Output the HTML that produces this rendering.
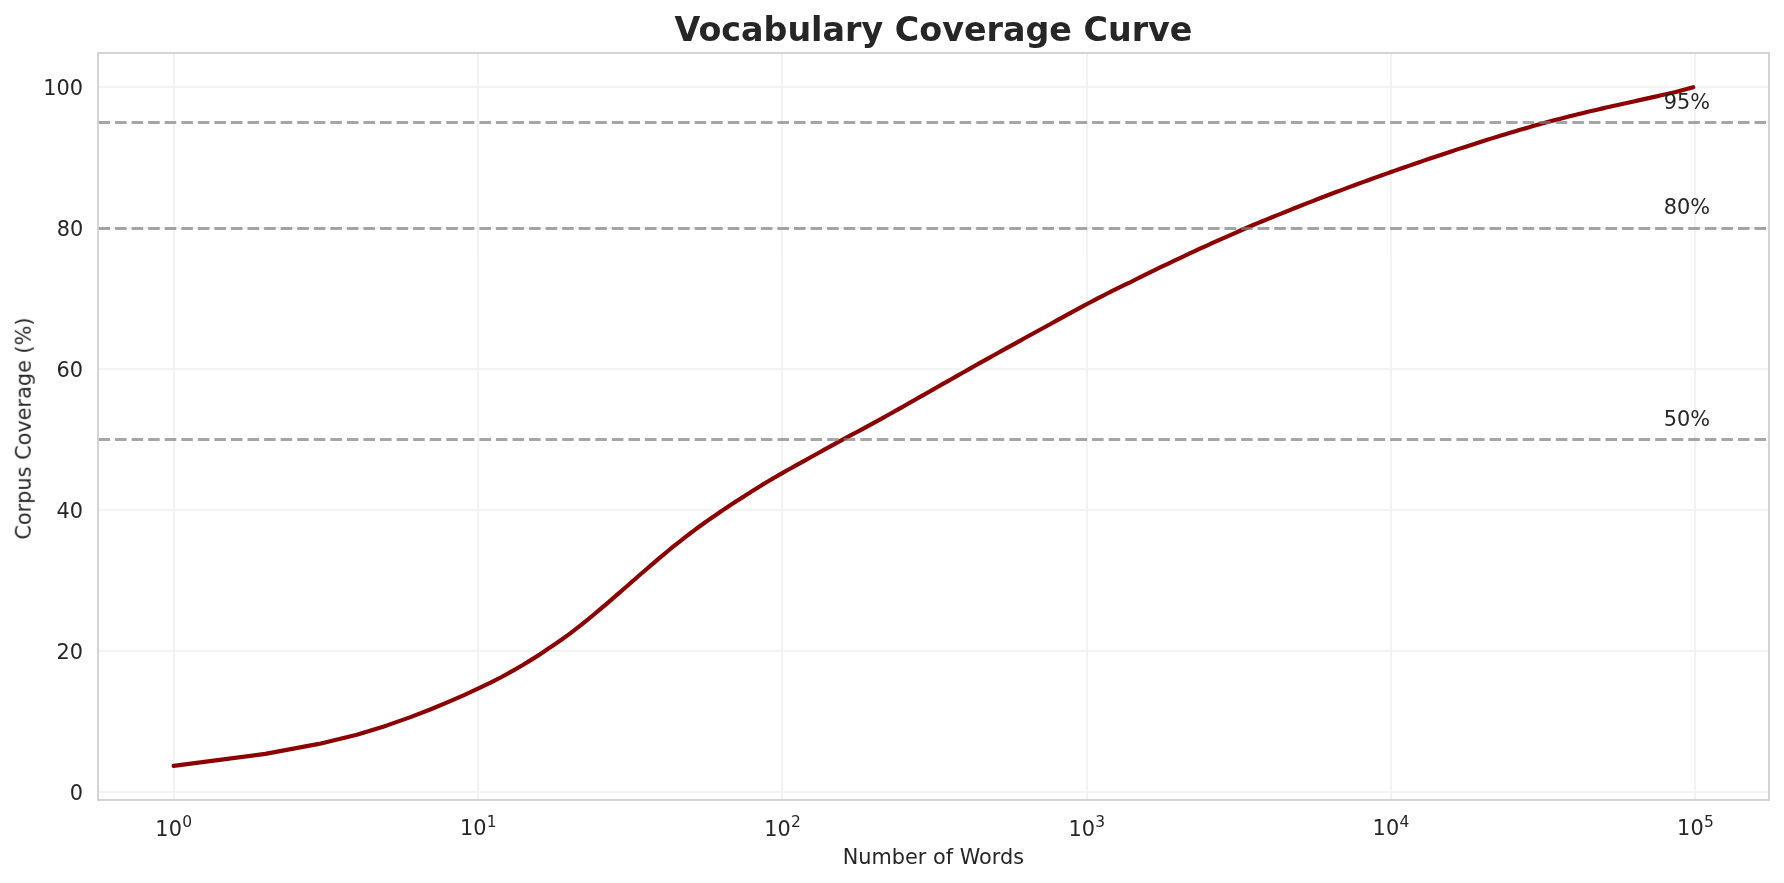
<!DOCTYPE html>
<html><head><meta charset="utf-8"><title>Vocabulary Coverage Curve</title>
<style>html,body{margin:0;padding:0;background:#fff;overflow:hidden}svg{display:block}</style>
</head><body>
<svg width="1784" height="883" viewBox="0 0 1784 883" font-family="'DejaVu Sans', sans-serif">
<defs><clipPath id="c"><rect x="97.67" y="53.2" width="1671.52" height="746.68"/></clipPath></defs>
<rect width="1784" height="883" fill="#fff"/>
<path d="M174 53V800M478 53V800M782 53V800M1087 53V800M1391 53V800M1695 53V800M98 792H1769M98 651H1769M98 510H1769M98 369H1769M98 228H1769M98 87H1769" clip-path="url(#c)" fill="none" stroke="#ccc" stroke-opacity="0.3" stroke-width="1.67" stroke-linecap="round"/>
<path d="M173.64 765.94 265.25 753.9 318.84 743.92 356.86 734.69 386.35 725.65 410.45 717.13 430.82 709.24 448.47 701.93 464.03 695.11 477.96 688.67 490.56 682.62 502.06 676.74 512.63 670.92 522.43 665.22 531.55 659.62 540.08 654.15 548.09 648.84 555.64 643.69 562.79 638.71 569.57 633.82 576.02 628.95 582.16 624.12 588.04 619.38 593.66 614.74 599.06 610.22 604.24 605.82 609.23 601.55 614.04 597.41 618.67 593.39 623.15 589.49 627.49 585.7 631.68 582.04 635.75 578.49 639.7 575.05 643.53 571.73 647.25 568.51 650.87 565.39 654.4 562.37 657.83 559.45 661.18 556.62 664.44 553.9 667.62 551.26 670.73 548.71 673.77 546.24 676.74 543.85 679.65 541.54 682.49 539.3 685.27 537.14 688 535.04 690.67 533.01 693.28 531.05 695.85 529.14 698.37 527.29 700.84 525.49 703.26 523.74 705.64 522.04 707.98 520.39 710.28 518.78 712.54 517.21 714.76 515.68 716.95 514.18 719.1 512.71 721.21 511.27 723.29 509.87 725.34 508.5 727.36 507.16 729.35 505.84 731.3 504.56 733.23 503.3 735.14 502.07 737.01 500.86 738.86 499.68 740.68 498.52 742.48 497.38 744.25 496.26 746 495.12 747.73 494.01 749.44 492.91 751.12 491.84 752.78 490.78 754.42 489.74 756.05 488.71 757.65 487.7 759.23 486.71 760.8 485.73 762.34 484.78 763.87 483.86 765.38 482.96 766.87 482.07 768.35 481.2 769.81 480.33 771.25 479.48 772.68 478.64 774.1 477.81 775.5 476.99 776.88 476.19 778.25 475.39 779.6 474.6 780.95 473.83 782.27 473.08 786.85 470.51 791.43 467.95 796.01 465.39 800.58 462.85 805.16 460.32 809.74 457.78 814.32 455.25 818.89 452.71 823.47 450.18 828.05 447.64 832.63 445.11 837.2 442.57 841.78 440.08 846.36 437.64 850.94 435.2 855.52 432.77 860.09 430.33 864.67 427.84 869.25 425.34 873.83 422.85 878.4 420.36 882.98 417.83 887.56 415.27 892.14 412.72 896.71 410.17 901.29 407.6 905.87 404.99 910.45 402.38 915.02 399.78 919.6 397.17 924.18 394.57 928.76 391.97 933.33 389.37 937.91 386.77 942.49 384.18 947.07 381.58 951.64 378.99 956.22 376.4 960.8 373.81 965.38 371.21 969.95 368.61 974.53 366.01 979.11 363.42 983.69 360.86 988.26 358.31 992.84 355.76 997.42 353.22 1002 350.68 1006.57 348.14 1011.15 345.61 1015.73 343.08 1020.31 340.56 1024.88 338.04 1029.46 335.52 1034.04 333.01 1038.62 330.49 1043.2 327.99 1047.77 325.48 1052.35 322.96 1056.93 320.44 1061.51 317.92 1066.08 315.4 1070.66 312.89 1075.24 310.38 1079.82 307.89 1084.39 305.44 1088.97 303.01 1093.55 300.58 1098.13 298.16 1102.7 295.81 1107.28 293.49 1111.86 291.19 1116.44 288.9 1121.01 286.64 1125.59 284.46 1130.17 282.29 1134.75 279.99 1139.32 277.71 1143.9 275.44 1148.48 273.18 1153.06 270.93 1157.63 268.71 1162.21 266.49 1166.79 264.3 1171.37 262.11 1175.94 259.95 1180.52 257.8 1185.1 255.63 1189.68 253.48 1194.25 251.34 1198.83 249.22 1203.41 247.12 1207.99 245.03 1212.57 242.97 1217.14 240.92 1221.72 238.88 1226.3 236.86 1230.88 234.85 1235.45 232.79 1240.03 230.75 1244.61 228.73 1249.19 226.72 1253.76 224.79 1258.34 222.9 1262.92 221.01 1267.5 219.15 1272.07 217.29 1276.65 215.43 1281.23 213.59 1285.81 211.73 1290.38 209.88 1294.96 208.05 1299.54 206.23 1304.12 204.42 1308.69 202.62 1313.27 200.84 1317.85 199.06 1322.43 197.3 1327 195.55 1331.58 193.8 1336.16 192.07 1340.74 190.34 1345.31 188.63 1349.89 186.92 1354.47 185.23 1359.05 183.54 1363.62 181.87 1368.2 180.2 1372.78 178.54 1377.36 176.89 1381.93 175.25 1386.51 173.62 1391.09 172 1395.67 170.39 1400.25 168.79 1404.82 167.19 1409.4 165.6 1413.98 164.02 1418.56 162.44 1423.13 160.87 1427.71 159.31 1432.29 157.76 1436.87 156.23 1441.44 154.7 1446.02 153.17 1450.6 151.65 1455.18 150.14 1459.75 148.64 1464.33 147.15 1468.91 145.66 1473.49 144.19 1478.06 142.72 1482.64 141.26 1487.22 139.81 1491.8 138.38 1496.37 136.95 1500.95 135.54 1505.53 134.15 1510.11 132.77 1514.68 131.4 1519.26 130.05 1523.84 128.72 1528.42 127.41 1532.99 126.1 1537.57 124.82 1542.15 123.55 1546.73 122.31 1551.3 121.08 1555.88 119.87 1560.46 118.67 1565.04 117.5 1569.62 116.34 1574.19 115.19 1578.77 114.06 1583.35 112.93 1587.93 111.83 1592.5 110.74 1597.08 109.68 1601.66 108.62 1606.24 107.58 1610.81 106.54 1615.39 105.51 1619.97 104.48 1624.55 103.46 1629.12 102.44 1633.7 101.42 1638.28 100.4 1642.86 99.39 1647.43 98.37 1652.01 97.36 1656.59 96.34 1661.17 95.32 1665.74 94.29 1670.32 93.26 1674.9 92.22 1679.48 90.96 1684.05 89.69 1688.63 88.41 1693.21 87.14" clip-path="url(#c)" fill="none" stroke="#8b0000" stroke-width="4.17" stroke-linecap="round" stroke-linejoin="round"/>
<path d="M98.5 439.5H1769.5" clip-path="url(#c)" fill="none" stroke="#808080" stroke-opacity="0.7" stroke-width="3.12" stroke-dasharray="11.56 5"/>
<path d="M98.5 228.5H1769.5" clip-path="url(#c)" fill="none" stroke="#808080" stroke-opacity="0.7" stroke-width="3.12" stroke-dasharray="11.56 5"/>
<path d="M98.5 122.5H1769.5" clip-path="url(#c)" fill="none" stroke="#808080" stroke-opacity="0.7" stroke-width="3.12" stroke-dasharray="11.56 5"/>
<g style="will-change:transform"><text fill="#262626"><tspan x="155.37" y="835.62" font-size="20.83">1</tspan><tspan x="168.65" y="835.62" font-size="20.83">0</tspan><tspan x="182.13" y="826.98" font-size="15.46">0</tspan></text><text fill="#262626"><tspan x="459.94" y="835.42" font-size="20.83">1</tspan><tspan x="473.22" y="835.42" font-size="20.83">0</tspan><tspan x="486.7" y="826.79" font-size="15.46">1</tspan></text><text fill="#262626"><tspan x="764.25" y="835.62" font-size="20.83">1</tspan><tspan x="777.53" y="835.62" font-size="20.83">0</tspan><tspan x="791.01" y="826.98" font-size="15.46">2</tspan></text><text fill="#262626"><tspan x="1068.49" y="835.62" font-size="20.83">1</tspan><tspan x="1081.78" y="835.62" font-size="20.83">0</tspan><tspan x="1095.26" y="826.98" font-size="15.46">3</tspan></text><text fill="#262626"><tspan x="1372.61" y="835.42" font-size="20.83">1</tspan><tspan x="1385.9" y="835.42" font-size="20.83">0</tspan><tspan x="1399.38" y="826.79" font-size="15.46">4</tspan></text><text fill="#262626"><tspan x="1677.12" y="835.42" font-size="20.83">1</tspan><tspan x="1690.4" y="835.42" font-size="20.83">0</tspan><tspan x="1703.89" y="826.79" font-size="15.46">5</tspan></text><text x="76.46" y="799.54" text-anchor="middle" font-size="20.83" fill="#262626">0</text><text x="69.83" y="658.66" text-anchor="middle" font-size="20.83" fill="#262626">20</text><text x="69.83" y="517.78" text-anchor="middle" font-size="20.83" fill="#262626">40</text><text x="69.77" y="376.9" text-anchor="middle" font-size="20.83" fill="#262626">60</text><text x="69.9" y="236.02" text-anchor="middle" font-size="20.83" fill="#262626">80</text><text x="63.21" y="95.14" text-anchor="middle" font-size="20.83" fill="#262626">100</text><text x="933.43" y="864" text-anchor="middle" font-size="20.83" fill="#262626">Number of Words</text><text x="30.3" y="428.54" text-anchor="middle" font-size="20.83" fill="#262626" transform="rotate(-90 30.3 428.54)">Corpus Coverage (%)</text><text x="1686.84" y="425.75" text-anchor="middle" font-size="20.83" fill="#262626">50%</text><text x="1686.78" y="214.43" text-anchor="middle" font-size="20.83" fill="#262626">80%</text><text x="1686.91" y="108.77" text-anchor="middle" font-size="20.83" fill="#262626">95%</text></g>
<rect x="98" y="53" width="1671" height="747" fill="none" stroke="#ccc" stroke-width="1.67" stroke-linejoin="miter"/>
<g style="will-change:transform"><text x="933.43" y="40.7" text-anchor="middle" font-size="33.33" font-weight="bold" fill="#262626">Vocabulary Coverage Curve</text></g>
</svg>
</body></html>
